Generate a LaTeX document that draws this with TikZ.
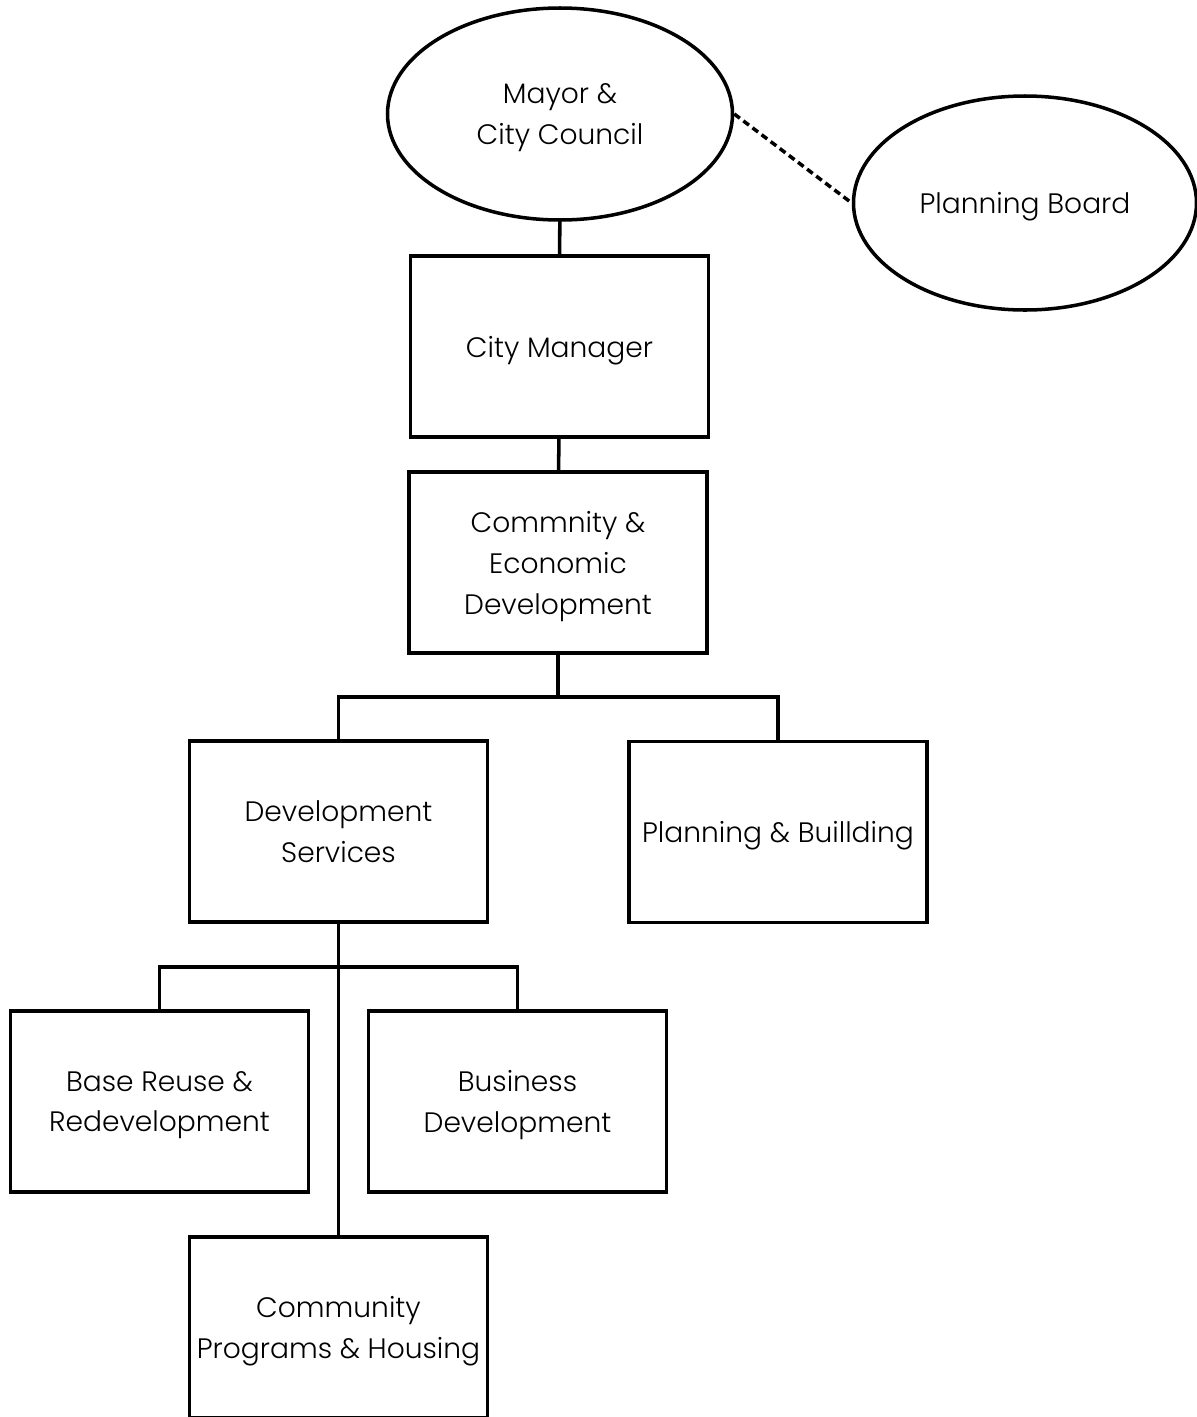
\documentclass[tikz,border=0pt]{standalone}
\usepackage{fontspec}
\setmainfont{Poppins}[UprightFont=* Light]
\usepackage{tikz}
\usetikzlibrary{shapes.geometric,positioning}

\begin{document}
\begin{tikzpicture}[line width=2pt]
  % Styles
  \tikzstyle{office}=[draw, rectangle, minimum width=5.96cm, minimum height=3.62cm, align=center, inner sep=2pt, font=\fontsize{16}{23.3}\selectfont, text depth=-1.7pt]
  \tikzstyle{body}=[draw, ellipse, align=center, inner sep=0pt, font=\fontsize{16}{23.3}\selectfont, text depth=-2pt]
  \tikzstyle{advisory}=[line width=2pt, dash pattern=on 4pt off 2.5pt]

  \useasboundingbox (0,0) rectangle (23.92,-28.34);

  % Top: council and board
  \node[body, minimum width=6.9cm, minimum height=4.24cm, text depth=-10pt] (mayor) at (11.2,-2.28) {Mayor \&\\City Council};
  \node[body, minimum width=6.86cm, minimum height=4.28cm] (board) at (20.5,-4.06) {Planning Board};
  \draw[advisory] (mayor.east) -- (board.west);

  % Management
  \node[office] (mgr) at (11.19,-6.93) {City Manager};
  \node[office] (ced) at (11.16,-11.25) {Commnity \&\\Economic\\Development};
  \draw (mayor) -- (mgr);
  \draw (mgr) -- (ced);

  % Departments
  \node[office] (devsvc) at (6.77,-16.63) {Development\\Services};
  \node[office] (plan) at (15.56,-16.64) {Planning \& Buillding};
  \coordinate (split1) at (11.16,-13.94);
  \draw (ced.south) -- (split1);
  \draw (devsvc.north) |- (split1) -| (plan.north);

  % Divisions
  \node[office] (base) at (3.19,-22.03) {Base Reuse \&\\Redevelopment};
  \node[office] (biz) at (10.35,-22.03) {Business\\Development};
  \node[office] (comm) at (6.77,-26.55) {Community\\Programs \& Housing};
  \coordinate (split2) at (6.77,-19.34);
  \draw (devsvc.south) -- (comm.north);
  \draw (base.north) |- (split2) -| (biz.north);
\end{tikzpicture}
\end{document}
